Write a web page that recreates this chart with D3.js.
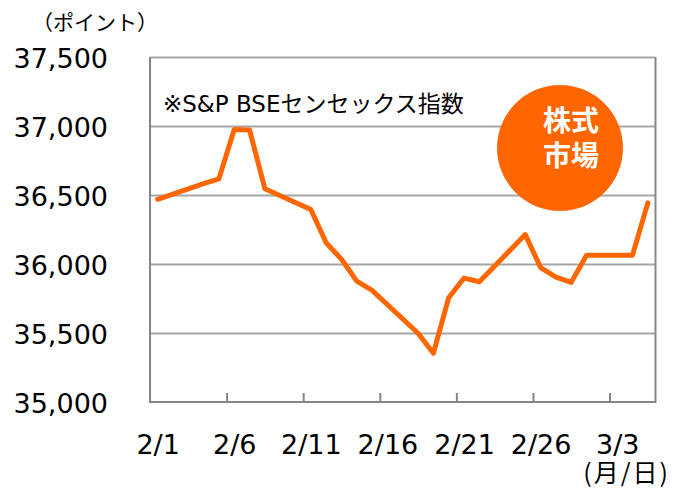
<!DOCTYPE html>
<html>
<head>
<meta charset="utf-8">
<script src="https://cdn.jsdelivr.net/npm/d3@7"></script>
<style>
  body { margin: 0; background: #fff; }
  svg { display: block; }
</style>
</head>
<body>
<div id="chart"></div>
<script>
// S&P BSE Sensex closes, Feb - Mar 2019
const dates = ["2019-02-01", "2019-02-04", "2019-02-05", "2019-02-06", "2019-02-07", "2019-02-08",
  "2019-02-11", "2019-02-12", "2019-02-13", "2019-02-14", "2019-02-15",
  "2019-02-18", "2019-02-19", "2019-02-20", "2019-02-21", "2019-02-22",
  "2019-02-25", "2019-02-26", "2019-02-27", "2019-02-28", "2019-03-01",
  "2019-03-04", "2019-03-05"];
const values = [36469, 36583, 36617, 36975, 36971, 36546,
  36395, 36154, 36034, 35876, 35809,
  35498, 35353, 35756, 35898, 35871,
  36213, 35974, 35905, 35867, 36064,
  36064, 36443];
const yTicks = [35000, 35500, 36000, 36500, 37000, 37500];
const labelDates = ["2019-02-01", "2019-02-06", "2019-02-11", "2019-02-16", "2019-02-21", "2019-02-26", "2019-03-03"];
const badgeLines = ["株式", "市場"];

const W = 674, H = 488;
const plotLeft = 150, plotRight = 655.5, plotTop = 57, plotBottom = 402;

const parseTime = d3.timeParse("%Y-%m-%d");
const formatTick = d3.timeFormat("%-m/%-d");

const svg = d3.select("#chart").append("svg")
  .attr("width", W)
  .attr("height", H);

// scales
var x = d3.scaleTime()
  .domain([parseTime("2019-02-01"), parseTime("2019-03-06")])
  .range([plotLeft, plotRight]);

var y = d3.scaleLinear()
  .domain([35000, 37500])
  .range([plotBottom, plotTop]);

// each day is a slot, points sit in the middle of it
const mid = d => d3.timeHour.offset(d, 12);

// grid lines
const grid = svg.append("g")
  .attr("transform", "translate(" + plotLeft + ",0)")
  .call(d3.axisLeft(y).tickValues(yTicks.slice(1)).tickSize(-(plotRight - plotLeft)).tickFormat(""));
grid.select(".domain").remove();
grid.selectAll("line").attr("stroke", "#a6a6a6").attr("stroke-width", 2);

// y labels
const yAxisGroup = svg.append("g")
  .attr("transform", "translate(" + plotLeft + ",0)")
  .call(d3.axisLeft(y).tickValues(yTicks).tickSize(0).tickPadding(42).tickFormat(d3.format(",")));
yAxisGroup.select(".domain").remove();
yAxisGroup.selectAll("text")
  .attr("dy", "0.38em")
  .attr("font-family", "DejaVu Sans, Verdana, sans-serif")
  .attr("font-size", "27px")
  .attr("fill", "#000");

// plot frame (left, right, bottom)
svg.append("path")
  .attr("d", "M" + plotLeft + "," + plotTop + "V" + plotBottom + "H" + plotRight + "V" + plotTop)
  .attr("fill", "none")
  .attr("stroke", "#868686")
  .attr("stroke-width", 2);

// tick marks on the bottom axis, at slot boundaries
const tickMarks = svg.append("g")
  .attr("transform", "translate(0," + plotBottom + ")")
  .call(d3.axisTop(x).tickValues(labelDates.slice(1).map(parseTime)).tickSize(9).tickFormat(""));
tickMarks.select(".domain").remove();
tickMarks.selectAll("line").attr("stroke", "#868686").attr("stroke-width", 2);

// date labels, centred in the slot
const xAxisGroup = svg.append("g")
  .attr("transform", "translate(0," + plotBottom + ")")
  .call(d3.axisBottom(x).tickValues(labelDates.map(d => mid(parseTime(d)))).tickSize(0).tickFormat(formatTick));
xAxisGroup.select(".domain").remove();
xAxisGroup.selectAll("text")
  .attr("dy", null)
  .attr("y", 52)
  .attr("font-family", "DejaVu Sans, Verdana, sans-serif")
  .attr("font-size", "27px")
  .attr("fill", "#000");

// line
const line = d3.line()
  .x((d, i) => x(mid(parseTime(dates[i]))))
  .y(d => y(d));

svg.append("path")
  .datum(values)
  .attr("d", line)
  .attr("fill", "none")
  .attr("stroke", "#ff6600")
  .attr("stroke-width", 5)
  .attr("stroke-linejoin", "round")
  .attr("stroke-linecap", "round");

// badge
svg.append("circle")
  .attr("cx", 560)
  .attr("cy", 148)
  .attr("r", 63)
  .attr("fill", "#ff6600");

svg.append("text")
  .attr("text-anchor", "middle")
  .attr("font-family", "Noto Sans CJK JP, sans-serif")
  .attr("font-weight", "bold")
  .attr("font-size", "28px")
  .attr("fill", "#fff")
  .selectAll("tspan")
  .data(badgeLines)
  .join("tspan")
  .attr("x", 571)
  .attr("y", (d, i) => 131 + i * 35)
  .text(d => d);

// texts
svg.append("text")
  .attr("x", 163)
  .attr("y", 112)
  .attr("font-family", "DejaVu Sans, Noto Sans CJK JP, sans-serif")
  .attr("font-size", "23px")
  .attr("fill", "#000")
  .text("※S&P BSEセンセックス指数");

svg.append("text")
  .attr("x", 32)
  .attr("y", 30)
  .attr("font-family", "Noto Sans CJK JP, sans-serif")
  .attr("font-size", "21px")
  .attr("fill", "#000")
  .text("（ポイント）");

svg.append("text")
  .attr("x", 670)
  .attr("y", 482)
  .attr("text-anchor", "end")
  .attr("font-family", "Noto Sans CJK JP, sans-serif")
  .attr("font-size", "25px")
  .attr("letter-spacing", "2px")
  .attr("fill", "#000")
  .text("(月/日)");
</script>
</body>
</html>
